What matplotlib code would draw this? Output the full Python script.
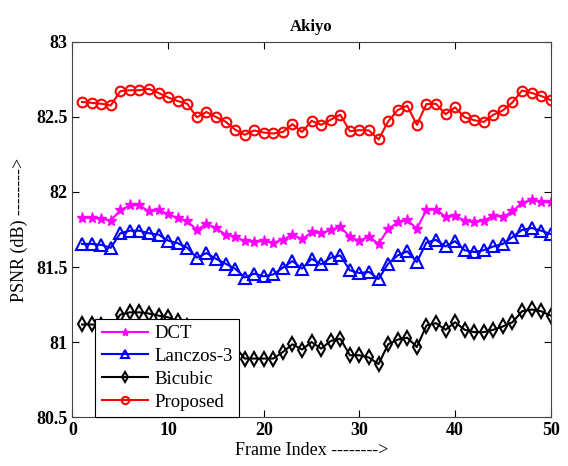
import matplotlib
matplotlib.use("Agg")
import matplotlib.pyplot as plt

frames = list(range(1, 51))

dct = [81.83, 81.826, 81.822, 81.81, 81.879, 81.91, 81.912, 81.87, 81.879, 81.853,
       81.826, 81.806, 81.747, 81.787, 81.76, 81.716, 81.703, 81.672, 81.67, 81.672,
       81.663, 81.681, 81.716, 81.685, 81.731, 81.725, 81.747, 81.769, 81.70, 81.676,
       81.703, 81.654, 81.753, 81.797, 81.813, 81.756, 81.879, 81.883, 81.835, 81.84,
       81.81, 81.797, 81.81, 81.841, 81.835, 81.87, 81.929, 81.945, 81.934, 81.93]

lanczos = [81.654, 81.654, 81.648, 81.628, 81.725, 81.742, 81.742, 81.725, 81.716, 81.676,
           81.659, 81.628, 81.562, 81.593, 81.555, 81.522, 81.489, 81.43, 81.456, 81.438,
           81.451, 81.496, 81.54, 81.489, 81.555, 81.518, 81.562, 81.577, 81.478, 81.46,
           81.467, 81.42, 81.522, 81.577, 81.605, 81.533, 81.663, 81.681, 81.637, 81.672,
           81.612, 81.60, 81.612, 81.637, 81.654, 81.70, 81.747, 81.76, 81.742, 81.72]

bicubic = [81.117, 81.117, 81.113, 81.093, 81.183, 81.198, 81.198, 81.19, 81.176, 81.165,
           81.14, 81.11, 81.04, 81.07, 81.035, 81.0, 80.97, 80.89, 80.89, 80.89,
           80.89, 80.934, 80.985, 80.95, 81.0, 80.956, 81.007, 81.022, 80.912, 80.912,
           80.897, 80.853, 80.985, 81.016, 81.029, 80.967, 81.11, 81.126, 81.082, 81.132,
           81.082, 81.066, 81.066, 81.082, 81.104, 81.132, 81.205, 81.217, 81.205, 81.176]

proposed = [82.60, 82.594, 82.588, 82.577, 82.672, 82.678, 82.678, 82.687, 82.66, 82.63,
            82.606, 82.588, 82.498, 82.533, 82.50, 82.469, 82.416, 82.381, 82.41, 82.396,
            82.39, 82.40, 82.452, 82.40, 82.474, 82.447, 82.482, 82.515, 82.405, 82.412,
            82.41, 82.35, 82.47, 82.546, 82.575, 82.447, 82.586, 82.588, 82.518, 82.564,
            82.498, 82.478, 82.467, 82.515, 82.544, 82.597, 82.676, 82.66, 82.64, 82.612]

plt.rcParams['font.family'] = ['Liberation Serif', 'DejaVu Serif']

fig = plt.figure(figsize=(5.68, 4.66), dpi=100)
ax = fig.add_axes([0.1276, 0.105, 0.842, 0.805])

ax.plot(frames, dct, '-*', color='magenta', lw=1.5, ms=8, label='DCT')
ax.plot(frames, lanczos, '-^', color='blue', lw=1.5, ms=8, mfc='none', mew=1.5, label='Lanczos-3')
ax.plot(frames, bicubic, '-d', color='black', lw=1.5, ms=7, mfc='none', mew=1.5, label='Bicubic')
ax.plot(frames, proposed, '-o', color='red', lw=1.5, ms=7, mfc='none', mew=1.5, label='Proposed')

ax.set_xlim(0, 50)
ax.set_ylim(80.5, 83)
ax.set_xticks([0, 10, 20, 30, 40, 50])
ax.set_yticks([80.5, 81, 81.5, 82, 82.5, 83])
ax.set_yticklabels(['80.5', '81', '81.5', '82', '82.5', '83'])
ax.tick_params(direction='in', top=True, right=True, labelsize=13, length=5)
for t in ax.get_xticklabels() + ax.get_yticklabels():
    t.set_fontweight('bold')
for s in ax.spines.values():
    s.set_color('#444444')

ax.set_title('Akiyo', fontsize=12, fontweight='bold', pad=8)
ax.set_xlabel('Frame Index -------->', fontsize=13, labelpad=2)
ax.set_ylabel('PSNR (dB) -------->', fontsize=13, labelpad=6)

leg = ax.legend(loc='lower left', bbox_to_anchor=(0.047, 0.0), borderaxespad=0,
                fontsize=13.5, fancybox=False, framealpha=1, edgecolor='black',
                handlelength=2.5, markerscale=0.75, labelspacing=0.3,
                handletextpad=0.3, borderpad=0.35)
leg.get_frame().set_linewidth(0.8)

fig.savefig('out.png', dpi=100)
